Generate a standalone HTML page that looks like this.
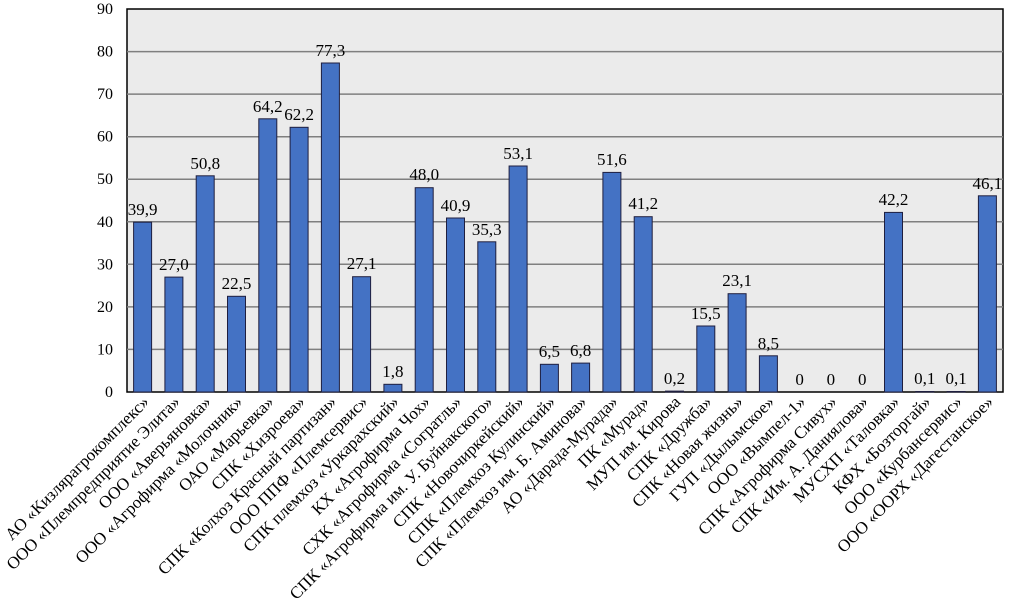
<!DOCTYPE html>
<html><head><meta charset="utf-8"><style>body{margin:0;background:#fff}svg{display:block}svg text{font-family:"Liberation Serif",serif}</style></head><body>
<svg width="1017" height="607" xmlns="http://www.w3.org/2000/svg">
<rect x="127" y="9" width="876" height="383" fill="#ebebeb" stroke="#000" stroke-width="1.5"/>
<g stroke="#7f7f7f" stroke-width="1.5">
<line x1="127" x2="1003" y1="349.4" y2="349.4"/><line x1="127" x2="1003" y1="306.9" y2="306.9"/><line x1="127" x2="1003" y1="264.3" y2="264.3"/><line x1="127" x2="1003" y1="221.8" y2="221.8"/><line x1="127" x2="1003" y1="179.2" y2="179.2"/><line x1="127" x2="1003" y1="136.7" y2="136.7"/><line x1="127" x2="1003" y1="94.1" y2="94.1"/><line x1="127" x2="1003" y1="51.6" y2="51.6"/>
</g>
<g font-size="16" text-anchor="end">
<text x="113" y="397">0</text><text x="113" y="354.4">10</text><text x="113" y="311.9">20</text><text x="113" y="269.3">30</text><text x="113" y="226.8">40</text><text x="113" y="184.2">50</text><text x="113" y="141.7">60</text><text x="113" y="99.1">70</text><text x="113" y="56.6">80</text><text x="113" y="14">90</text>
</g>
<g fill="#4472c4" stroke="#1f1f3f" stroke-width="1">
<rect x="133.6" y="222.2" width="18" height="169.8"/>
<rect x="164.9" y="277.1" width="18" height="114.9"/>
<rect x="196.2" y="175.8" width="18" height="216.2"/>
<rect x="227.5" y="296.3" width="18" height="95.7"/>
<rect x="258.8" y="118.8" width="18" height="273.2"/>
<rect x="290.1" y="127.3" width="18" height="264.7"/>
<rect x="321.4" y="63.0" width="18" height="329.0"/>
<rect x="352.6" y="276.7" width="18" height="115.3"/>
<rect x="383.9" y="384.3" width="18" height="7.7"/>
<rect x="415.2" y="187.7" width="18" height="204.3"/>
<rect x="446.5" y="218.0" width="18" height="174.0"/>
<rect x="477.8" y="241.8" width="18" height="150.2"/>
<rect x="509.1" y="166.0" width="18" height="226.0"/>
<rect x="540.4" y="364.3" width="18" height="27.7"/>
<rect x="571.6" y="363.1" width="18" height="28.9"/>
<rect x="602.9" y="172.4" width="18" height="219.6"/>
<rect x="634.2" y="216.7" width="18" height="175.3"/>
<rect x="665.5" y="391.1" width="18" height="0.9"/>
<rect x="696.8" y="326.0" width="18" height="66.0"/>
<rect x="728.1" y="293.7" width="18" height="98.3"/>
<rect x="759.4" y="355.8" width="18" height="36.2"/>
<rect x="884.5" y="212.4" width="18" height="179.6"/>
<rect x="915.8" y="391.5" width="18" height="0.5"/>
<rect x="947.1" y="391.5" width="18" height="0.5"/>
<rect x="978.4" y="195.8" width="18" height="196.2"/>
</g>
<g font-size="17" text-anchor="middle">
<text x="142.6" y="215">39,9</text><text x="173.9" y="270">27,0</text><text x="205.2" y="169">50,8</text><text x="236.5" y="289">22,5</text><text x="267.8" y="112">64,2</text><text x="299.1" y="120">62,2</text><text x="330.4" y="56">77,3</text><text x="361.6" y="269">27,1</text><text x="392.9" y="377">1,8</text><text x="424.2" y="180">48,0</text><text x="455.5" y="211">40,9</text><text x="486.8" y="235">35,3</text><text x="518.1" y="159">53,1</text><text x="549.4" y="357">6,5</text><text x="580.6" y="356">6,8</text><text x="611.9" y="165">51,6</text><text x="643.2" y="209">41,2</text><text x="674.5" y="384">0,2</text><text x="705.8" y="319">15,5</text><text x="737.1" y="286">23,1</text><text x="768.4" y="349">8,5</text><text x="799.6" y="385">0</text><text x="830.9" y="385">0</text><text x="862.2" y="385">0</text><text x="893.5" y="205">42,2</text><text x="924.8" y="384">0,1</text><text x="956.1" y="384">0,1</text><text x="987.4" y="189">46,1</text>
</g>
<g font-size="17" text-anchor="end">
<text transform="translate(150,403) rotate(-45)">АО «Кизлярагрокомплекс»</text>
<text transform="translate(181,403) rotate(-45)">ООО «Племпредприятие Элита»</text>
<text transform="translate(212,403) rotate(-45)">ООО «Аверьяновка»</text>
<text transform="translate(243.5,403) rotate(-45)">ООО «Агрофирма «Молочник»</text>
<text transform="translate(274.8,403) rotate(-45)">ОАО «Марьевка»</text>
<text transform="translate(306,403) rotate(-45)">СПК «Хизроева»</text>
<text transform="translate(337.4,403) rotate(-45)">СПК «Колхоз Красный партизан»</text>
<text transform="translate(368.6,403) rotate(-45)">ООО ППФ «Племсервис»</text>
<text transform="translate(399.9,403) rotate(-45)">СПК племхоз «Уркарахский»</text>
<text transform="translate(431.2,403) rotate(-45)">КХ «Агрофирма Чох»</text>
<text transform="translate(462.5,403) rotate(-45)">СХК «Агрофирма «Согратль»</text>
<text transform="translate(493.8,403) rotate(-45)">СПК «Агрофирма им. У. Буйнакского»</text>
<text transform="translate(525.1,403) rotate(-45)">СПК «Новочиркейский»</text>
<text transform="translate(556.4,403) rotate(-45)">СПК «Племхоз Кулинский»</text>
<text transform="translate(587.6,403) rotate(-45)">СПК «Племхоз им. Б. Аминова»</text>
<text transform="translate(618.9,403) rotate(-45)">АО «Дарада-Мурада»</text>
<text transform="translate(650.2,403) rotate(-45)">ПК «Мурад»</text>
<text transform="translate(681.5,403) rotate(-45)">МУП им. Кирова</text>
<text transform="translate(712.8,403) rotate(-45)">СПК «Дружба»</text>
<text transform="translate(744.1,403) rotate(-45)">СПК «Новая жизнь»</text>
<text transform="translate(775.4,403) rotate(-45)">ГУП «Дылымское»</text>
<text transform="translate(806.6,403) rotate(-45)">ООО «Вымпел-1»</text>
<text transform="translate(837.9,403) rotate(-45)">СПК «Агрофирма Сивух»</text>
<text transform="translate(869.2,403) rotate(-45)">СПК «Им. А. Даниялова»</text>
<text transform="translate(900.5,403) rotate(-45)">МУСХП «Таловка»</text>
<text transform="translate(931.8,403) rotate(-45)">КФХ «Бозторгай»</text>
<text transform="translate(963.1,403) rotate(-45)">ООО «Курбансервис»</text>
<text transform="translate(994.4,403) rotate(-45)">ООО «ООРХ «Дагестанское»</text>
</g>
</svg></body></html>
